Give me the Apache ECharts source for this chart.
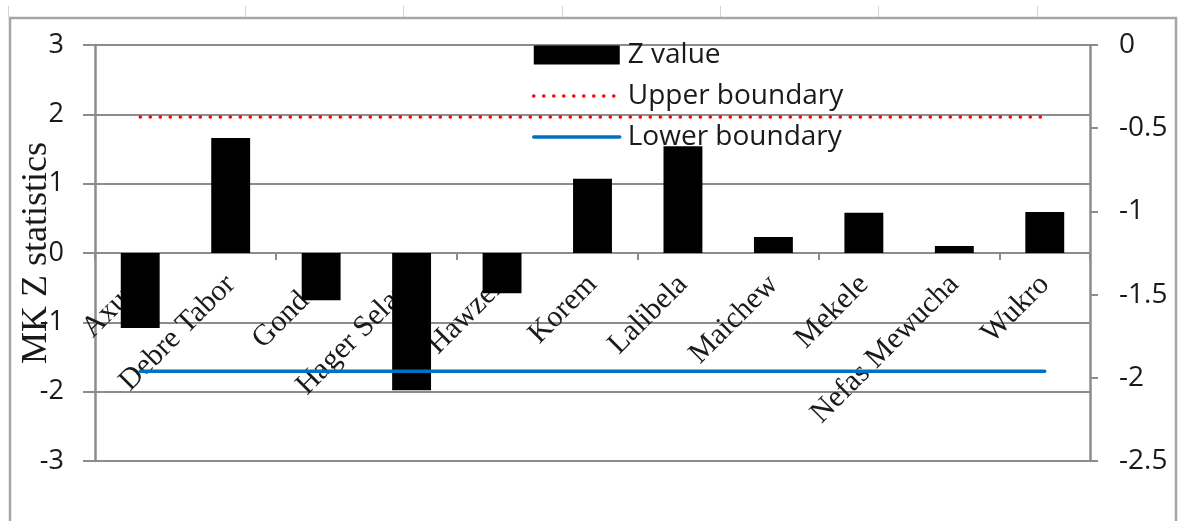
<!DOCTYPE html>
<html>
<head>
<meta charset="utf-8">
<title>MK Z statistics by station</title>
<script src="https://cdn.jsdelivr.net/npm/echarts@6/dist/echarts.min.js"></script>
<style>
  html, body { margin: 0; padding: 0; background: #ffffff; }
  #chart { width: 1180px; height: 521px; }
</style>
</head>
<body>
<div id="chart"></div>
<script>
// Stations along the category axis
const stations = ['Axum', 'Debre Tabor', 'Gondar', 'Hager Selam', 'Hawzen', 'Korem',
  'Lalibela', 'Maichew', 'Mekele', 'Nefas Mewucha', 'Wukro'];

// Mann-Kendall Z value per station (left axis)
const zValues = [-1.08, 1.66, -0.68, -1.98, -0.58, 1.07, 1.54, 0.23, 0.58, 0.10, 0.59];

// Significance boundaries: upper drawn against the left axis, lower against the right axis
const upperBoundary = [1.96, 1.96, 1.96, 1.96, 1.96, 1.96, 1.96, 1.96, 1.96, 1.96, 1.96];
const lowerBoundary = [-1.96, -1.96, -1.96, -1.96, -1.96, -1.96, -1.96, -1.96, -1.96, -1.96, -1.96];

// Axis ranges
const leftAxisRange = { min: -3, max: 3, interval: 1 };
const rightAxisRange = { min: -2.5, max: 0, interval: 0.5 };

const gridGray = '#8c8c8c';
const textDark = '#1a1a1a';
const sansFont = 'Open Sans';
const serifFont = 'Liberation Serif';

// Plot box in pixels
const plotTop = 45, plotBottom = 60;
const plotHeight = 521 - plotTop - plotBottom;
// The station labels hang from the zero line, halfway down the left axis
const zeroLineOffset = -plotHeight * (0 - leftAxisRange.min) / (leftAxisRange.max - leftAxisRange.min);

const upperLineStyle = { color: '#ff0000', width: 3.5, type: [0.1, 9.9], cap: 'round' };
const lowerLineStyle = { color: '#0070c0', width: 3.5, type: 'solid', cap: 'round' };

const chart = echarts.init(document.getElementById('chart'), null, { renderer: 'canvas' });

// Spreadsheet frame lines around the chart object
const sheetColumns = [8, 245, 403, 562, 720, 878, 1037];
const frameGraphics = sheetColumns.map(x => ({
  type: 'line', silent: true, z: 100,
  shape: { x1: x + 0.5, y1: 6, x2: x + 0.5, y2: 17 },
  style: { stroke: '#d4d4d4', lineWidth: 1 }
}));
frameGraphics.push({
  type: 'rect', silent: true, z: 100,
  shape: { x: 10, y: 18, width: 1166, height: 540 },
  style: { fill: 'none', stroke: '#a6a6a6', lineWidth: 2.5 }
});

chart.setOption({
  animation: false,
  backgroundColor: '#ffffff',
  graphic: frameGraphics,
  grid: { left: 95, right: 90, top: plotTop, bottom: plotBottom, containLabel: false, outerBoundsMode: 'none' },
  legend: {
    orient: 'vertical',
    left: 532,
    top: 41,
    padding: 0,
    itemWidth: 86,
    itemHeight: 19,
    itemGap: 13,
    textStyle: { fontFamily: sansFont, fontSize: 28, color: textDark, padding: [0, 0, 0, 3] },
    data: [
      { name: 'Z value', icon: 'rect' },
      { name: 'Upper boundary', itemStyle: { opacity: 0 }, lineStyle: upperLineStyle },
      { name: 'Lower boundary', itemStyle: { opacity: 0 }, lineStyle: lowerLineStyle }
    ]
  },
  xAxis: [
    {
      // zero line with category ticks
      type: 'category',
      data: stations,
      boundaryGap: true,
      axisLine: { onZero: true, lineStyle: { color: gridGray, width: 2 } },
      axisTick: { show: true, inside: false, length: 7, lineStyle: { color: gridGray, width: 2 } },
      axisLabel: { show: false },
      splitLine: { show: false }
    },
    {
      // station names, placed just under the zero line
      type: 'category',
      data: stations,
      boundaryGap: true,
      position: 'bottom',
      offset: zeroLineOffset,
      axisLine: { show: false, onZero: false },
      axisTick: { show: false },
      axisLabel: {
        rotate: 45,
        interval: 0,
        margin: 27,
        fontFamily: serifFont,
        fontSize: 30,
        color: textDark
      },
      splitLine: { show: false }
    }
  ],
  yAxis: [
    {
      type: 'value',
      position: 'left',
      min: leftAxisRange.min,
      max: leftAxisRange.max,
      interval: leftAxisRange.interval,
      name: 'MK Z statistics',
      nameLocation: 'middle',
      nameGap: 40,
      nameRotate: 90,
      nameMoveOverlap: false,
      nameTextStyle: { fontFamily: serifFont, fontSize: 36, color: textDark },
      axisLine: { show: true, onZero: false, lineStyle: { color: gridGray, width: 2.5 } },
      axisTick: { show: true, length: 12, lineStyle: { color: gridGray, width: 2 } },
      axisLabel: { margin: 31, fontFamily: sansFont, fontSize: 27, color: textDark },
      splitLine: { show: true, lineStyle: { color: gridGray, width: 2 } }
    },
    {
      type: 'value',
      position: 'right',
      min: rightAxisRange.min,
      max: rightAxisRange.max,
      interval: rightAxisRange.interval,
      axisLine: { show: true, onZero: false, lineStyle: { color: gridGray, width: 2.5 } },
      axisTick: { show: true, length: 8, lineStyle: { color: gridGray, width: 2 } },
      axisLabel: { margin: 29, fontFamily: sansFont, fontSize: 28, color: textDark },
      splitLine: { show: false }
    }
  ],
  series: [
    {
      name: 'Z value',
      type: 'bar',
      xAxisIndex: 0,
      yAxisIndex: 0,
      data: zValues,
      barWidth: '43%',
      itemStyle: { color: '#000000' },
      z: 3
    },
    {
      name: 'Upper boundary',
      type: 'line',
      xAxisIndex: 0,
      yAxisIndex: 0,
      data: upperBoundary,
      symbol: 'none',
      itemStyle: { color: '#ff0000' },
      lineStyle: upperLineStyle,
      z: 4
    },
    {
      name: 'Lower boundary',
      type: 'line',
      xAxisIndex: 0,
      yAxisIndex: 1,
      data: lowerBoundary,
      symbol: 'none',
      itemStyle: { color: '#0070c0' },
      lineStyle: lowerLineStyle,
      z: 4
    }
  ]
});
</script>
</body>
</html>
